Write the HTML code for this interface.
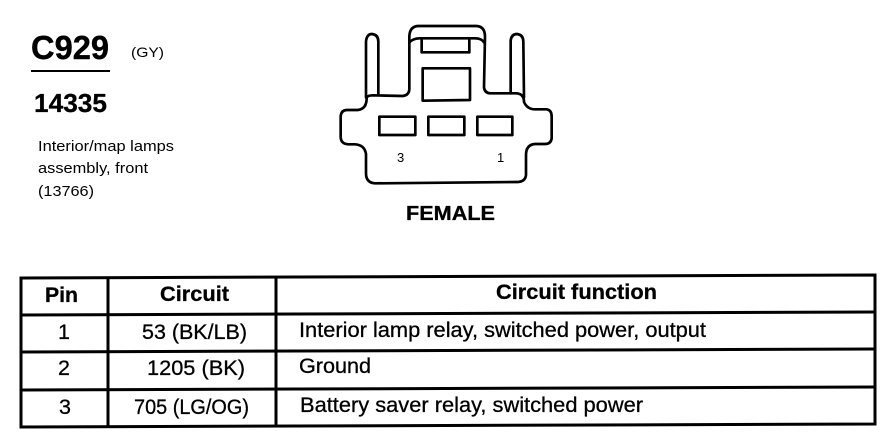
<!DOCTYPE html>
<html>
<head>
<meta charset="utf-8">
<style>
html,body{margin:0;padding:0;background:#fff;width:894px;height:448px;overflow:hidden}
svg{display:block}
text{font-family:"Liberation Sans",sans-serif;fill:#000}
.b{font-weight:bold}
.t{font-size:21.5px;stroke:#000;stroke-width:.3px}
.h{font-size:21.5px;font-weight:bold;stroke:#000;stroke-width:.3px}
</style>
</head>
<body>
<svg width="894" height="448" viewBox="0 0 894 448" xmlns="http://www.w3.org/2000/svg">
<rect width="894" height="448" fill="#fff"/>

<text class="b" x="31" y="59" font-size="33" textLength="78" lengthAdjust="spacingAndGlyphs" stroke="#000" stroke-width=".4">C929</text>
<text x="131" y="57" font-size="14" textLength="33" lengthAdjust="spacingAndGlyphs">(GY)</text>
<line x1="31" y1="71" x2="110" y2="71" stroke="#000" stroke-width="2"/>
<text class="b" x="34" y="112" font-size="26" textLength="73" lengthAdjust="spacingAndGlyphs" stroke="#000" stroke-width=".3">14335</text>
<text x="38" y="151" font-size="15" textLength="136" lengthAdjust="spacingAndGlyphs">Interior/map lamps</text>
<text x="38" y="173" font-size="15" textLength="110" lengthAdjust="spacingAndGlyphs">assembly, front</text>
<text x="38" y="196" font-size="15" textLength="56" lengthAdjust="spacingAndGlyphs">(13766)</text>

<g transform="translate(320,10) scale(.33333)" fill="none" stroke="#000" stroke-width="8" stroke-linejoin="round" stroke-linecap="round">
<path d="M62 340 V322 Q62 300 82 300 H112 Q140 298 140 264 Q142 256 160 256 L248 258 Q268 256 268 236 V78 Q270 48 296 48 H470 Q495 50 495 80 L492 232 Q494 250 512 250 H590 Q612 252 612 276 Q622 298 645 298 H680 Q695 300 695 320 V385 Q693 402 675 402 H645 Q618 404 618 435 V495 Q616 516 590 516 L165 520 Q138 518 138 490 V432 Q134 405 105 403 H85 Q62 402 62 380 Z"/>
<path d="M268 98 Q278 85 300 85 H465 Q485 85 493 98"/>
<path d="M305 90 V127 H448 V90"/>
<path d="M308 175 H450 V270 L308 272 Z"/>
<path d="M138 262 V95 Q140 72 156 72 Q175 74 175 95 V255"/>
<path d="M572 250 V92 Q574 72 591 72 Q610 74 610 95 L612 262"/>
<rect x="178" y="320" width="108" height="55"/>
<rect x="325" y="320" width="108" height="55"/>
<rect x="472" y="320" width="105" height="55"/>
</g>
<text x="397" y="162" font-size="13">3</text>
<text x="497" y="162" font-size="13">1</text>
<text class="b" x="406" y="220" font-size="20" textLength="89" lengthAdjust="spacingAndGlyphs" stroke="#000" stroke-width=".3">FEMALE</text>

<g stroke="#000" stroke-width="3" fill="none">
<path d="M21 278 L875 275 V424 L21 427 Z"/>
<line x1="21" y1="315" x2="875" y2="312"/>
<line x1="21" y1="352" x2="875" y2="349"/>
<line x1="21" y1="390" x2="875" y2="387"/>
<line x1="108" y1="278" x2="108" y2="427"/>
<line x1="276" y1="277" x2="276" y2="426"/>
</g>

<text class="h" x="45" y="302" textLength="33" lengthAdjust="spacingAndGlyphs">Pin</text>
<text class="h" x="160" y="301" textLength="69" lengthAdjust="spacingAndGlyphs">Circuit</text>
<text class="h" x="496" y="299" textLength="161" lengthAdjust="spacingAndGlyphs">Circuit function</text>

<text class="t" x="58" y="339">1</text>
<text class="t" x="142" y="339" textLength="105" lengthAdjust="spacingAndGlyphs">53 (BK/LB)</text>
<text class="t" x="299" y="337" textLength="407" lengthAdjust="spacingAndGlyphs">Interior lamp relay, switched power, output</text>

<text class="t" x="58" y="375">2</text>
<text class="t" x="147" y="375" textLength="98" lengthAdjust="spacingAndGlyphs">1205 (BK)</text>
<text class="t" x="299" y="373" textLength="72" lengthAdjust="spacingAndGlyphs">Ground</text>

<text class="t" x="59" y="414">3</text>
<text class="t" x="134" y="414" textLength="115" lengthAdjust="spacingAndGlyphs">705 (LG/OG)</text>
<text class="t" x="300" y="412" textLength="343" lengthAdjust="spacingAndGlyphs">Battery saver relay, switched power</text>
</svg>
</body>
</html>
